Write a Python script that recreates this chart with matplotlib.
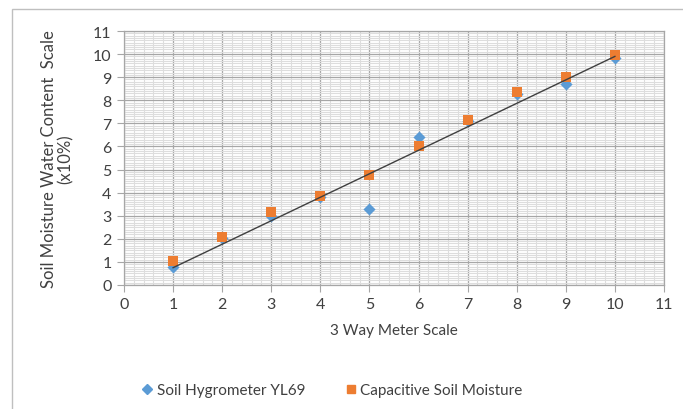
import numpy as np
import matplotlib.pyplot as plt
from matplotlib.lines import Line2D
from matplotlib.patches import Rectangle
from matplotlib.ticker import MultipleLocator

# data
meter_scale = [1, 2, 3, 4, 5, 6, 7, 8, 9, 10]
hygrometer = [0.77, 2.05, 3.0, 3.8, 3.27, 6.43, 7.1, 8.27, 8.7, 9.82]
capacitive = [1.03, 2.09, 3.17, 3.84, 4.76, 6.0, 7.16, 8.37, 8.99, 9.97]
trend_x = [1, 10]
trend_y = [0.75, 9.9]

BLUE = "#5B9BD5"
ORANGE = "#ED7D31"
TXT = "#404040"

plt.rcParams["font.family"] = ["Lato", "DejaVu Sans"]

fig = plt.figure(figsize=(6.83, 4.10), dpi=100)
ax = fig.add_axes([124 / 683, 1 - 286 / 410, 540 / 683, 254 / 410])

# excel-style chart frame
fig.patches.append(Rectangle((12 / 683, -0.05), 1.0, 1 - 10 / 410 + 0.05,
                             transform=fig.transFigure, fill=False,
                             edgecolor="#BFBFBF", linewidth=1.0))

ax.set_xlim(0, 11)
ax.set_ylim(0, 11)
ax.xaxis.set_major_locator(MultipleLocator(1))
ax.yaxis.set_major_locator(MultipleLocator(1))
ax.xaxis.set_minor_locator(MultipleLocator(0.2))
ax.yaxis.set_minor_locator(MultipleLocator(0.1))

ax.grid(which="minor", color="#DDDDDD", linewidth=0.8)
ax.grid(which="major", color="#A6A6A6", linewidth=0.9)
ax.set_axisbelow(True)

for s in ax.spines.values():
    s.set_color("#A6A6A6")
    s.set_linewidth(0.9)

ax.tick_params(which="major", length=5, color="#A6A6A6", labelsize=11.5,
               labelcolor=TXT, pad=4)
ax.tick_params(which="minor", length=0)

ax.scatter(meter_scale, hygrometer, marker="D", s=38, color=BLUE, zorder=3,
           linewidths=0)
ax.scatter(meter_scale, capacitive, marker="s", s=60, color=ORANGE, zorder=4,
           linewidths=0)
ax.plot(trend_x, trend_y, color="#404040", linewidth=1.0, zorder=5)

ax.set_xlabel("3 Way Meter Scale", fontsize=11, color=TXT, labelpad=8)
ax.set_ylabel("Soil Moisture Water Content  Scale\n(x10%)", fontsize=12,
              color=TXT, labelpad=14, linespacing=1.0)

handles = [
    Line2D([], [], marker="D", linestyle="none", color=BLUE, markersize=5),
    Line2D([], [], marker="s", linestyle="none", color=ORANGE, markersize=6),
]
fig.legend(handles, ["Soil Hygrometer YL69", "Capacitive Soil Moisture"],
           loc="center", bbox_to_anchor=(331 / 683, 1 - 391 / 410), ncol=2,
           frameon=False, fontsize=11, labelcolor=TXT, handletextpad=0.1,
           columnspacing=2.5, handlelength=1.0)

fig.savefig("out.png", dpi=100)
